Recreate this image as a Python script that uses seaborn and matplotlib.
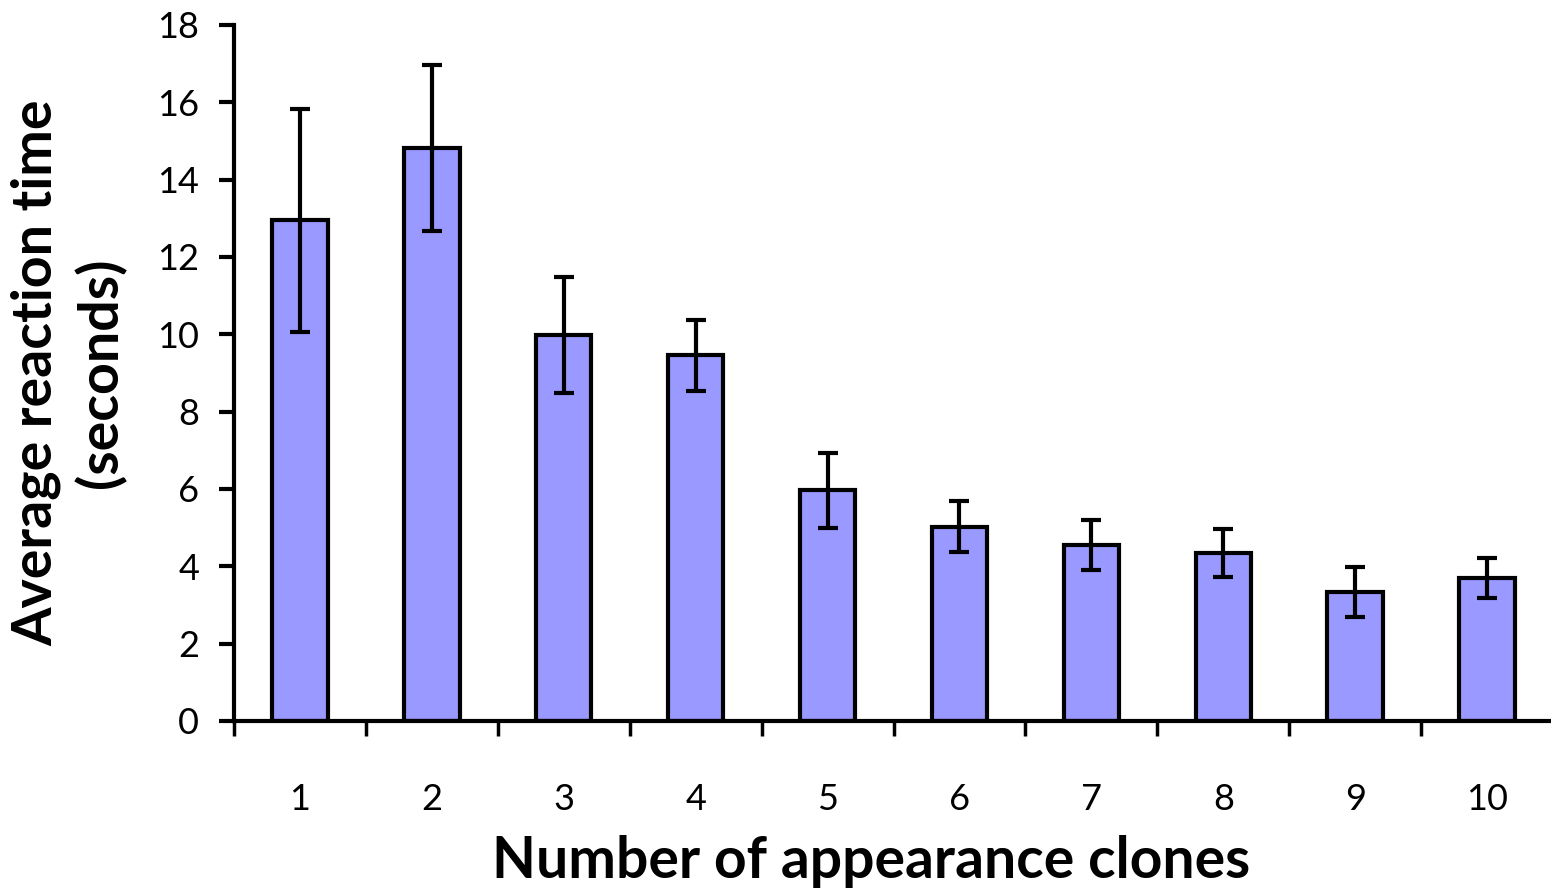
import matplotlib
matplotlib.use("Agg")
import matplotlib.pyplot as plt
import seaborn as sns
import pandas as pd
import numpy as np
from matplotlib.ticker import FixedLocator

# Mean reaction time per number of appearance clones, with error (seconds)
clones = ["1", "2", "3", "4", "5", "6", "7", "8", "9", "10"]
mean_time = [12.95, 14.82, 9.98, 9.46, 5.97, 5.02, 4.55, 4.34, 3.34, 3.70]
error = [2.88, 2.15, 1.50, 0.92, 0.97, 0.66, 0.65, 0.62, 0.65, 0.52]

sns.set_style("white")
plt.rcParams["font.family"] = ["Lato", "DejaVu Sans"]
plt.rcParams["text.color"] = "black"
plt.rcParams["axes.labelcolor"] = "black"
plt.rcParams["xtick.color"] = "black"
plt.rcParams["ytick.color"] = "black"

df = pd.DataFrame({"clones": clones, "time": mean_time})

fig = plt.figure(figsize=(15.51, 8.89), dpi=100)
ax = fig.add_axes([234 / 1551, 168 / 889, 1319 / 1551, 696 / 889])

sns.barplot(data=df, x="clones", y="time", color="#9999FF", saturation=1,
            width=0.42, edgecolor="black", linewidth=3, errorbar=None, ax=ax)

ax.errorbar(np.arange(len(clones)), mean_time, yerr=error, fmt="none",
            ecolor="black", elinewidth=3, capsize=7, capthick=3, zorder=5)

ax.set_xlim(-0.5, len(clones) - 0.5)
ax.set_ylim(0, 18)
ax.set_yticks(np.arange(0, 19, 2))

for side in ("top", "right"):
    ax.spines[side].set_visible(False)
for side in ("left", "bottom"):
    ax.spines[side].set_linewidth(3)
    ax.spines[side].set_color("black")

# Category separators as outward minor ticks on the x axis
ax.xaxis.set_minor_locator(FixedLocator(np.arange(-0.5, len(clones), 1.0)))
ax.tick_params(axis="x", which="major", length=0, pad=45, labelsize=26)
ax.tick_params(axis="x", which="minor", length=11, width=2.5, direction="out",
               color="black", bottom=True)
ax.tick_params(axis="y", which="major", length=11, width=3, direction="out",
               color="black", left=True, pad=14, labelsize=26)

ax.set_xlabel("Number of appearance clones", fontsize=41, fontweight="bold")
ax.xaxis.set_label_coords(0.483, -0.226, transform=ax.transAxes)
ax.xaxis.label.set_verticalalignment("baseline")
ax.set_ylabel("Average reaction time\n(seconds)", fontsize=40,
              fontweight="bold", labelpad=22, linespacing=1.3)

fig.savefig("out.png", dpi=100, facecolor="white")
